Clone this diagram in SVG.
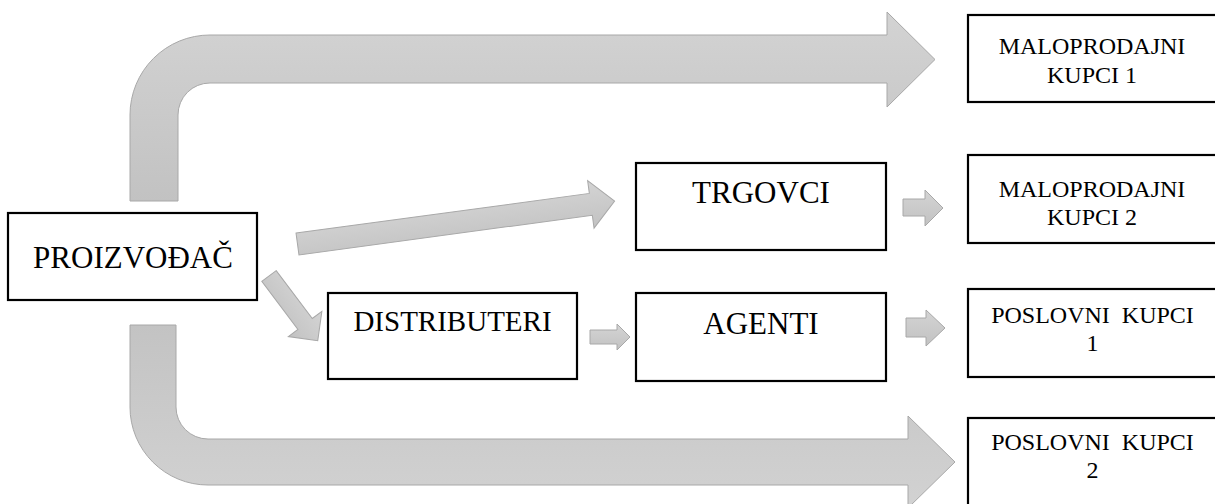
<svg xmlns="http://www.w3.org/2000/svg" width="1215" height="504" viewBox="0 0 1215 504">
<style>
.box{fill:#ffffff;stroke:#000000;stroke-width:2.2}
.arr{stroke:#a8a8a8;stroke-width:1}
text{font-family:'Liberation Serif','Times New Roman','DejaVu Serif',serif;fill:#000000;text-anchor:middle;white-space:pre}
.big{font-size:31px}
.mid{font-size:29px}
.sm{font-size:24px}
</style>
<defs>
<linearGradient id="gDown" x1="0" y1="0" x2="0" y2="1">
<stop offset="0" stop-color="#d3d3d3"/>
<stop offset="1" stop-color="#c2c2c2"/>
</linearGradient>
<linearGradient id="gUp" x1="0" y1="0" x2="0" y2="1">
<stop offset="0" stop-color="#c3c3c3"/>
<stop offset="1" stop-color="#d2d2d2"/>
</linearGradient>
<linearGradient id="gSmall" x1="0" y1="0" x2="0" y2="1">
<stop offset="0" stop-color="#d4d4d4"/>
<stop offset="1" stop-color="#c2c2c2"/>
</linearGradient>
</defs>
<g id="connectors">
<path class="arr" fill="url(#gDown)" d="M130,201 L130,115 A80,80 0 0 1 210,35 L887,35 L887,12 L935,59.5 L887,107 L887,83 L210,83 A32,32 0 0 0 178,115 L178,201 Z"/>
<path class="arr" fill="url(#gUp)" d="M130,325 L130,407 A78,78 0 0 0 208,485 L908,485 L908,508 L955,462 L908,416 L908,439 L208,439 A32,32 0 0 1 176,407 L176,325 Z"/>
<path class="arr" fill="url(#gSmall)" transform="translate(297.5,244) rotate(-7.7)" d="M0,-11 L296,-11 L296,-24 L320,0 L296,24 L296,11 L0,11 Z"/>
<path class="arr" fill="url(#gSmall)" transform="translate(269,276) rotate(53)" d="M0,-9 L60,-9 L60,-21 L81,0 L60,21 L60,9 L0,9 Z"/>
<path class="arr" fill="url(#gSmall)" d="M590,330 L617,330 L617,324 L630,337 L617,350 L617,344 L590,344 Z"/>
<path class="arr" fill="url(#gSmall)" d="M903,199 L925,199 L925,190 L943,208 L925,226 L925,216 L903,216 Z"/>
<path class="arr" fill="url(#gSmall)" d="M906,318 L926,318 L926,310 L945,328 L926,346 L926,337 L906,337 Z"/>
</g>
<g id="proizvodjac">
<rect class="box" x="8" y="213" width="249" height="87"/>
<text class="big" x="133" y="268" font-family="Liberation Serif, serif">PROIZVOĐAČ</text>
</g>
<g id="trgovci">
<rect class="box" x="636" y="163" width="250" height="87"/>
<text class="big" x="761" y="203">TRGOVCI</text>
</g>
<g id="distributeri">
<rect class="box" x="328" y="293" width="249" height="86"/>
<text class="mid" x="452.5" y="331">DISTRIBUTERI</text>
</g>
<g id="agenti">
<rect class="box" x="636" y="293" width="250" height="88"/>
<text class="big" x="761" y="334">AGENTI</text>
</g>
<g id="maloprodajni1">
<rect class="box" x="968" y="15" width="260" height="87"/>
<text class="sm" x="1092" y="54">MALOPRODAJNI</text>
<text class="sm" x="1092" y="83">KUPCI 1</text>
</g>
<g id="maloprodajni2">
<rect class="box" x="968" y="155" width="260" height="88"/>
<text class="sm" x="1092" y="197">MALOPRODAJNI</text>
<text class="sm" x="1092" y="225">KUPCI 2</text>
</g>
<g id="poslovni1">
<rect class="box" x="968" y="289" width="260" height="88"/>
<text class="sm" x="1092.5" y="323">POSLOVNI  KUPCI</text>
<text class="sm" x="1092.5" y="351">1</text>
</g>
<g id="poslovni2">
<rect class="box" x="968" y="418" width="260" height="100"/>
<text class="sm" x="1092.5" y="450">POSLOVNI  KUPCI</text>
<text class="sm" x="1092.5" y="478">2</text>
</g>
</svg>
